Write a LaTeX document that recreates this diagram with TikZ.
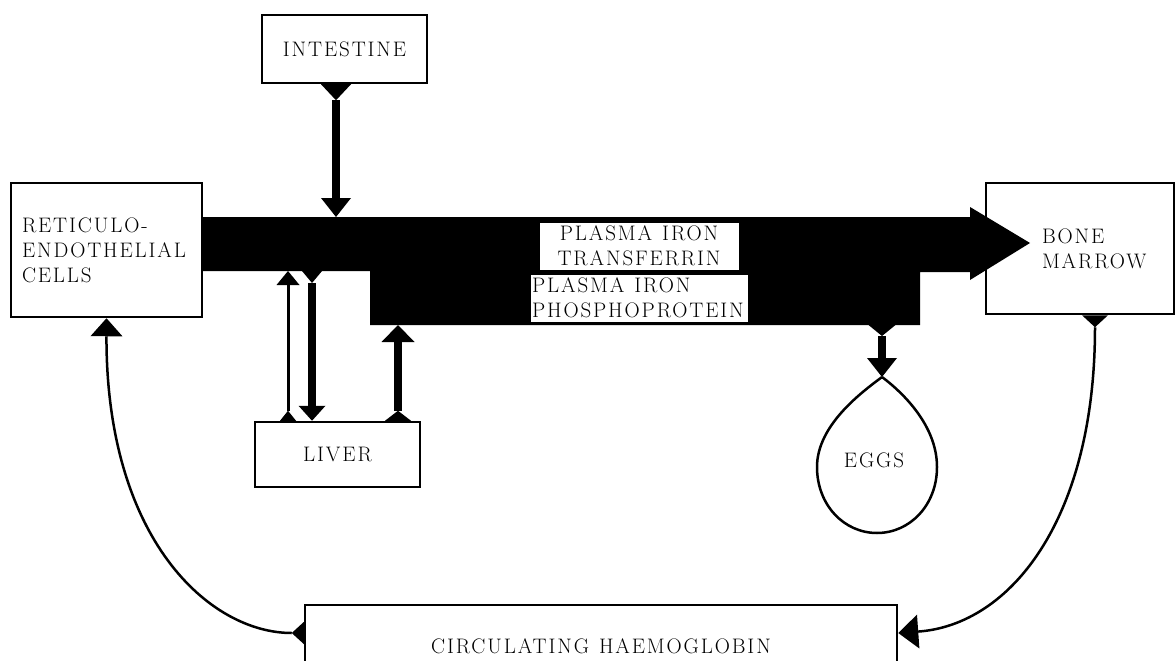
\documentclass[tikz,border=0pt]{standalone}
\usepackage{fontspec}
\usetikzlibrary{arrows.meta}
\newfontfamily\labfam{Latin Modern Roman}[LetterSpace=9]
\newcommand{\labfont}{\labfam\fontsize{21}{25}\selectfont}
\newcommand{\wsp}{\hspace*{10pt}}
\begin{document}
\begin{tikzpicture}[x=1pt,y=-1pt,
  box/.style={draw, line width=2.5pt, inner sep=0pt, font=\labfont, text=black},
  lab/.style={inner sep=0pt, font=\labfont, text=black},
  tag/.style={lab, draw, fill=white, line width=1pt},
  thin/.style={line width=3pt},
  thick/.style={line width=8.5pt},
  curve/.style={line width=2.5pt}
]
\useasboundingbox (0,0) rectangle (1176,661);

% boxes
\node[box, minimum width=165pt, minimum height=68pt] (intestine) at (344.5,49) {INTESTINE};
\node[box, minimum width=191pt, minimum height=134pt, text width=169pt, align=left] (re) at (106.5,250) {RETICULO-\\ENDOTHELIAL\\CELLS};
\node[box, minimum width=188pt, minimum height=131pt, text width=170pt, align=left] (bm) at (1080,248.5) {\hspace*{47pt}BONE\\\hspace*{47pt}MARROW};
\node[box, minimum width=165pt, minimum height=65pt] (liver) at (337.5,454.5) {LIVER};
\node[box, minimum width=592pt, minimum height=82pt] (hb) at (601,646) {CIRCULATING\wsp HAEMOGLOBIN};

% plasma iron band
\fill[black] (202,217) -- (970,217) -- (970,207) -- (1030,243) -- (970,280) -- (970,272)
  -- (920,272) -- (920,325) -- (370,325) -- (370,271) -- (202,271) -- cycle;
\node[tag, minimum width=200pt, minimum height=48pt, align=center] (tf) at (639,246) {PLASMA\wsp IRON\\TRANSFERRIN};
\node[tag, minimum width=218pt, minimum height=48pt, text width=214pt, align=left] (pp) at (639,298) {PLASMA\wsp IRON\\PHOSPHOPROTEIN};

% attachment points on the band and the egg
\coordinate (inB) at (336,217);
\coordinate (thinB) at (288,271);
\coordinate (thickB) at (312,271);
\coordinate (rB) at (398,325);
\coordinate (eggB) at (882,325);
\coordinate (eggtop) at (882,377);

% eggs
\draw[curve, line join=round] (eggtop) .. controls (902,392) and (937,425) .. (937,467)
  .. controls (937,505) and (910,533) .. (877,533)
  .. controls (844,533) and (817,505) .. (817,467)
  .. controls (817,425) and (862,392) .. (eggtop);
\node[lab] (eggs) at (874,460) {EGGS};

% connectors
\draw[thick, {Triangle[reversed,width=30pt,length=16pt,line width=0pt]}-{Triangle[width=30pt,length=19pt,line width=0pt]}]
  (intestine.south -| inB) -- (inB);
\draw[thin, {Triangle[reversed,width=16pt,length=10pt,line width=0pt]}-{Triangle[width=23pt,length=14pt,line width=0pt]}]
  (liver.north -| thinB) -- (thinB);
\draw[thick, {Triangle[reversed,width=20pt,length=12pt,line width=0pt]}-{Triangle[width=27pt,length=15pt,line width=0pt]}]
  (thickB) -- (liver.north -| thickB);
\draw[thick, {Triangle[reversed,width=26pt,length=10pt,line width=0pt]}-{Triangle[width=33pt,length=17pt,line width=0pt]}]
  (liver.north -| rB) -- (rB);
\draw[thick, {Triangle[reversed,width=27pt,length=11pt,line width=0pt]}-{Triangle[width=30pt,length=19pt,line width=0pt]}]
  (eggB) -- (eggtop);
\draw[curve, {Triangle[reversed,width=26pt,length=12pt,line width=0pt]}-{Triangle[width=34pt,length=20pt,line width=0pt]}]
  ([xshift=15pt]bm.south) .. controls (1095,520) and (1010,625) .. ([yshift=13pt]hb.east);
\draw[curve, {Triangle[reversed,width=22pt,length=12pt,line width=0pt]}-{Triangle[width=32pt,length=18pt,line width=0pt]}]
  ([yshift=13pt]hb.west) .. controls (210,633) and (106,540) .. (re.south);
\end{tikzpicture}
\end{document}
